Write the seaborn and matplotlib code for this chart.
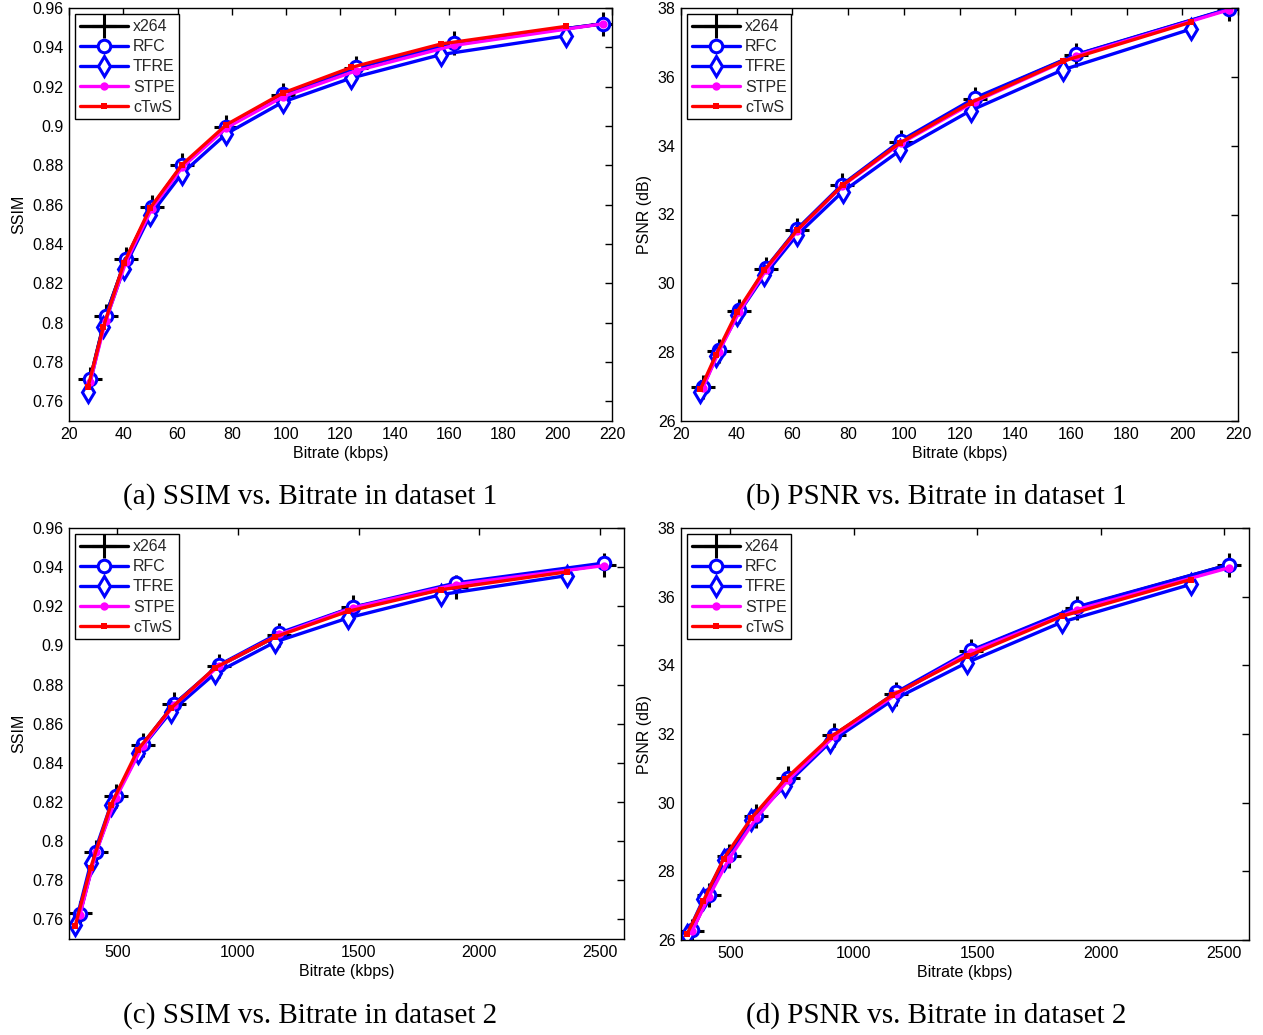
import numpy as np
import pandas as pd
import matplotlib
matplotlib.use("Agg")
import matplotlib.pyplot as plt
import seaborn as sns
from matplotlib.ticker import FuncFormatter

# ---------------- data ----------------
methods = ["x264", "RFC", "TFRE", "STPE", "cTwS"]

# dataset 1 bitrates (kbps)
d1_rate_a = [27.8, 33.5, 41.0, 50.5, 61.7, 77.9, 99.0, 125.6, 161.9, 216.8]   # x264 / RFC / STPE
d1_rate_b = [27.0, 32.6, 40.2, 49.9, 61.6, 78.0, 98.8, 124.0, 157.0, 203.2]   # TFRE / cTwS

# dataset 2 bitrates (kbps)
d2_rate_a = [345, 412, 495, 605, 735, 920, 1172, 1475, 1902, 2518]          # x264 / RFC / STPE
d2_rate_b = [325, 390, 473, 585, 722, 905, 1155, 1458, 1843, 2365]          # TFRE / cTwS

# (a) SSIM dataset 1
ssim1_x264 = [0.7715, 0.8036, 0.8324, 0.8588, 0.8800, 0.8995, 0.9156, 0.9295, 0.9422, 0.9520]
ssim1_rfc  = [0.7712, 0.8034, 0.8324, 0.8590, 0.8800, 0.8995, 0.9162, 0.9298, 0.9422, 0.9520]
ssim1_tfre = [0.7647, 0.7976, 0.8275, 0.8546, 0.8758, 0.8961, 0.9122, 0.9244, 0.9363, 0.9459]
ssim1_stpe = [0.7700, 0.8010, 0.8310, 0.8580, 0.8790, 0.8990, 0.9150, 0.9280, 0.9410, 0.9520]
ssim1_ctws = [0.7673, 0.7976, 0.8303, 0.8583, 0.8803, 0.9007, 0.9168, 0.9298, 0.9417, 0.9507]

# (b) PSNR dataset 1
psnr1_x264 = [26.98, 28.03, 29.21, 30.42, 31.56, 32.85, 34.12, 35.36, 36.64, 37.97]
psnr1_rfc  = [27.00, 28.05, 29.23, 30.45, 31.58, 32.87, 34.15, 35.39, 36.65, 37.98]
psnr1_tfre = [26.83, 27.90, 29.07, 30.23, 31.40, 32.66, 33.87, 35.02, 36.20, 37.39]
psnr1_stpe = [26.95, 28.00, 29.18, 30.38, 31.52, 32.83, 34.07, 35.28, 36.61, 37.95]
psnr1_ctws = [26.93, 27.93, 29.18, 30.38, 31.54, 32.85, 34.09, 35.25, 36.45, 37.59]

# (c) SSIM dataset 2
ssim2_x264 = [0.7631, 0.7947, 0.8231, 0.8491, 0.8699, 0.8894, 0.9054, 0.9195, 0.9300, 0.9413]
ssim2_rfc  = [0.7627, 0.7947, 0.8231, 0.8495, 0.8699, 0.8899, 0.9064, 0.9195, 0.9319, 0.9421]
ssim2_tfre = [0.7571, 0.7886, 0.8183, 0.8452, 0.8661, 0.8857, 0.9018, 0.9141, 0.9260, 0.9357]
ssim2_stpe = [0.7622, 0.7942, 0.8222, 0.8486, 0.8694, 0.8894, 0.9056, 0.9192, 0.9311, 0.9408]
ssim2_ctws = [0.7564, 0.7865, 0.8183, 0.8466, 0.8678, 0.8886, 0.9044, 0.9175, 0.9285, 0.9376]

# (d) PSNR dataset 2
psnr2_x264 = [26.26, 27.30, 28.45, 29.60, 30.72, 31.98, 33.16, 34.42, 35.68, 36.93]
psnr2_rfc  = [26.28, 27.30, 28.47, 29.61, 30.72, 31.96, 33.22, 34.44, 35.70, 36.93]
psnr2_tfre = [26.16, 27.18, 28.32, 29.49, 30.50, 31.77, 32.98, 34.08, 35.26, 36.36]
psnr2_stpe = [26.26, 27.25, 28.37, 29.55, 30.67, 31.93, 33.16, 34.39, 35.62, 36.84]
psnr2_ctws = [26.18, 27.13, 28.37, 29.55, 30.68, 31.91, 33.13, 34.26, 35.43, 36.50]

captions = ["(a) SSIM vs. Bitrate in dataset 1", "(b) PSNR vs. Bitrate in dataset 1",
            "(c) SSIM vs. Bitrate in dataset 2", "(d) PSNR vs. Bitrate in dataset 2"]

# ---------------- style ----------------
sns.set_theme(style="white")
plt.rcParams["font.family"] = ["Liberation Sans", "DejaVu Sans"]
plt.rcParams["xtick.direction"] = "in"
plt.rcParams["ytick.direction"] = "in"

W, H = 1263, 1035
fig = plt.figure(figsize=(W / 100, H / 100), dpi=100)
fig.patch.set_facecolor("white")


def px_axes(l, t, r, b):
    return fig.add_axes([l / W, 1 - b / H, (r - l) / W, (b - t) / H])


BLUE = (0, 0, 1)
styles = {
    "x264": dict(color="black", marker="+", markersize=17, markeredgewidth=2.2,
                 markeredgecolor="black"),
    "RFC": dict(color=BLUE, marker="o", markersize=9, markeredgewidth=2.2,
                markerfacecolor="white", markeredgecolor=BLUE),
    "TFRE": dict(color=BLUE, marker="d", markersize=10.5, markeredgewidth=2.2,
                 markerfacecolor="white", markeredgecolor=BLUE),
    "STPE": dict(color=(1, 0, 1), marker="o", markersize=6, markeredgewidth=0,
                 markerfacecolor=(1, 0, 1), markeredgecolor=(1, 0, 1)),
    "cTwS": dict(color=(1, 0, 0), marker="s", markersize=5, markeredgewidth=0,
                 markerfacecolor=(1, 0, 0), markeredgecolor=(1, 0, 0)),
}

panels = [
    dict(box=(69, 8, 612, 421), rates=(d1_rate_a, d1_rate_b),
         vals=(ssim1_x264, ssim1_rfc, ssim1_tfre, ssim1_stpe, ssim1_ctws),
         xlim=(20, 220), xticks=np.arange(20, 221, 20), ylim=(0.75, 0.96),
         yticks=np.arange(0.76, 0.961, 0.02), ylabel="SSIM"),
    dict(box=(681, 8, 1238, 421), rates=(d1_rate_a, d1_rate_b),
         vals=(psnr1_x264, psnr1_rfc, psnr1_tfre, psnr1_stpe, psnr1_ctws),
         xlim=(20, 220), xticks=np.arange(20, 221, 20), ylim=(26, 38),
         yticks=np.arange(26, 38.1, 2), ylabel="PSNR (dB)"),
    dict(box=(69, 528, 624, 939), rates=(d2_rate_a, d2_rate_b),
         vals=(ssim2_x264, ssim2_rfc, ssim2_tfre, ssim2_stpe, ssim2_ctws),
         xlim=(300, 2600), xticks=np.arange(500, 2501, 500), ylim=(0.75, 0.96),
         yticks=np.arange(0.76, 0.961, 0.02), ylabel="SSIM"),
    dict(box=(681, 528, 1249, 940), rates=(d2_rate_a, d2_rate_b),
         vals=(psnr2_x264, psnr2_rfc, psnr2_tfre, psnr2_stpe, psnr2_ctws),
         xlim=(300, 2600), xticks=np.arange(500, 2501, 500), ylim=(26, 38),
         yticks=np.arange(26, 38.1, 2), ylabel="PSNR (dB)"),
]

fmt = FuncFormatter(lambda v, p: ("%g" % round(v, 4)))

for i, p in enumerate(panels):
    ax = px_axes(*p["box"])
    ra, rb = p["rates"]
    rate_map = {"x264": ra, "RFC": ra, "TFRE": rb, "STPE": ra, "cTwS": rb}
    for m, v in zip(methods, p["vals"]):
        df = pd.DataFrame({"Bitrate": rate_map[m], "Value": v})
        sns.lineplot(data=df, x="Bitrate", y="Value", ax=ax, sort=False, estimator=None,
                     linewidth=2.4, label=m, **styles[m])
    ax.set_xlim(*p["xlim"])
    ax.set_ylim(*p["ylim"])
    ax.set_xticks(p["xticks"])
    ax.set_yticks(p["yticks"])
    ax.xaxis.set_major_formatter(fmt)
    ax.yaxis.set_major_formatter(fmt)
    ax.tick_params(axis="both", which="both", direction="in", length=5, width=1.0,
                   top=True, right=True, labelsize=11.5, colors="black", pad=4)
    for s in ax.spines.values():
        s.set_visible(True)
        s.set_color("black")
        s.set_linewidth(1.0)
    ax.set_xlabel("Bitrate (kbps)", fontsize=11.5, labelpad=3, color="black")
    ax.set_ylabel(p["ylabel"], fontsize=11.5, labelpad=4, color="black")
    ax.set_facecolor("white")
    ax.grid(False)
    h, l = ax.get_legend_handles_labels()
    leg = ax.legend(h, l, loc="upper left", fontsize=11.5, handlelength=3.0,
                    handletextpad=0.3, labelspacing=0.32, borderpad=0.3,
                    borderaxespad=0.4, fancybox=False, framealpha=1,
                    edgecolor="black")
    leg.get_frame().set_linewidth(1.0)

cap_pos = [(310, 497), (936, 497), (310, 1016), (936, 1016)]
for (cx, cy), txt in zip(cap_pos, captions):
    fig.text(cx / W, 1 - cy / H, txt, ha="center", va="center", fontsize=21,
             family=["Liberation Serif", "DejaVu Serif"], color="black")

fig.savefig("out.png", dpi=100, facecolor="white")
